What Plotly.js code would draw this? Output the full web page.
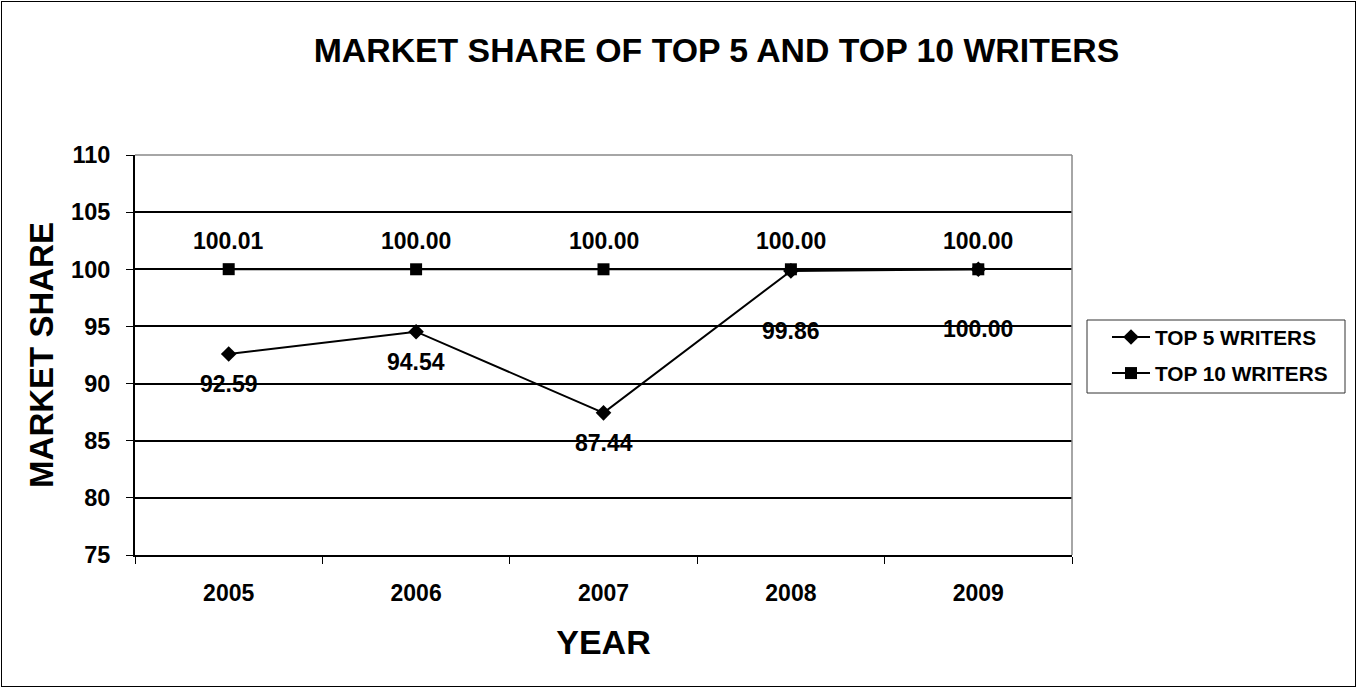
<!DOCTYPE html>
<html>
<head>
<meta charset="utf-8">
<script src="https://cdn.plot.ly/plotly-3.0.1.min.js"></script>
<style>
html,body{margin:0;padding:0;background:#fff;}
#chart{width:1357px;height:688px;position:relative;}
#frame{position:absolute;left:1px;top:1px;width:1353px;height:684px;border:1px solid #000;pointer-events:none;}
</style>
</head>
<body>
<div id="chart"></div>
<div id="frame"></div>
<script>
const years = ['2005','2006','2007','2008','2009'];
const top5 = [92.59, 94.54, 87.44, 99.86, 100.00];
const top10 = [100.01, 100.00, 100.00, 100.00, 100.00];
const seriesNames = ['TOP 5 WRITERS', 'TOP 10 WRITERS'];
const yTicks = [75, 80, 85, 90, 95, 100, 105, 110];

const FONT = 'Liberation Sans, Arial, sans-serif';

const traces = [
  {x: years, y: top5, name: seriesNames[0], legendgroup: 'a', type: 'scatter', mode: 'lines+markers',
   line: {color: '#000', width: 2}, marker: {symbol: 'diamond', size: 12, color: '#000'}},
  {x: years, y: top10, name: seriesNames[1], legendgroup: 'b', type: 'scatter', mode: 'lines+markers',
   line: {color: '#000', width: 2}, marker: {symbol: 'square', size: 12, color: '#000'}}
];

const labelFont = {family: FONT, size: 23, color: '#000', weight: 'bold'};
const annotations = [];
years.forEach((yr, i) => {
  annotations.push({x: i, y: top10[i], xref: 'x', yref: 'y', text: top10[i].toFixed(2),
    showarrow: false, yshift: 28, font: labelFont});
  const close = Math.abs(top10[i] - top5[i]) < 1;
  annotations.push({x: i, y: top5[i], xref: 'x', yref: 'y', text: top5[i].toFixed(2),
    showarrow: false, yshift: close ? -60 : -30, font: labelFont});
});

const layout = {
  width: 1357, height: 688,
  margin: {l: 135, r: 285, t: 155, b: 133},
  paper_bgcolor: '#fff', plot_bgcolor: '#fff',
  font: {family: FONT, color: '#000'},
  title: {text: '<b>MARKET SHARE OF TOP 5 AND TOP 10 WRITERS</b>', x: 0.528, xanchor: 'center', y: 0.927, yanchor: 'middle',
    font: {family: FONT, size: 33.8, color: '#000'}},
  xaxis: {type: 'category', range: [-0.5, 4.5], showgrid: false, zeroline: false,
    showline: true, linecolor: '#000', linewidth: 2,
    ticks: 'outside', tickson: 'boundaries', ticklen: 7, tickcolor: '#000', tickwidth: 1,
    ticklabelstandoff: 16,
    tickfont: {family: FONT, size: 23, color: '#000', weight: 'bold'},
    title: {text: '<b>YEAR</b>', font: {family: FONT, size: 34, color: '#000'}, standoff: 26}},
  yaxis: {range: [75, 110], tickvals: yTicks, showgrid: true, gridcolor: '#000', gridwidth: 2, zeroline: false,
    showline: true, linecolor: '#000', linewidth: 2,
    ticks: 'outside', ticklen: 7, tickcolor: '#000', tickwidth: 1,
    ticklabelstandoff: 11,
    tickfont: {family: FONT, size: 23.5, color: '#000', weight: 'bold'},
    title: {text: '<b>MARKET SHARE</b>', font: {family: FONT, size: 33, color: '#000'}, standoff: 8}},
  legend: {x: (1107 - 135) / 937, xanchor: 'left', y: 0.595, yanchor: 'top', borderwidth: 0,
    bgcolor: 'rgba(0,0,0,0)', font: {family: FONT, size: 20.8, color: '#000', weight: 'bold'},
    traceorder: 'grouped', tracegroupgap: 6, itemwidth: 38},
  showlegend: true,
  annotations: annotations,
  shapes: [
    {type: 'line', xref: 'paper', yref: 'paper', x0: 0, x1: 1, y0: 1, y1: 1, line: {color: '#888', width: 1.5}, layer: 'above'},
    {type: 'line', xref: 'paper', yref: 'paper', x0: 1, x1: 1, y0: 0, y1: 1, line: {color: '#888', width: 1.5}, layer: 'above'},
    {type: 'rect', xref: 'paper', yref: 'paper', x0: (1087 - 135) / 937, x1: (1345 - 135) / 937,
     y0: (555 - 393) / 400, y1: (555 - 320) / 400, line: {color: '#333', width: 1}, fillcolor: 'rgba(0,0,0,0)', layer: 'above'}
  ]
};

Plotly.newPlot('chart', traces, layout, {displayModeBar: false, staticPlot: true});
</script>
</body>
</html>
